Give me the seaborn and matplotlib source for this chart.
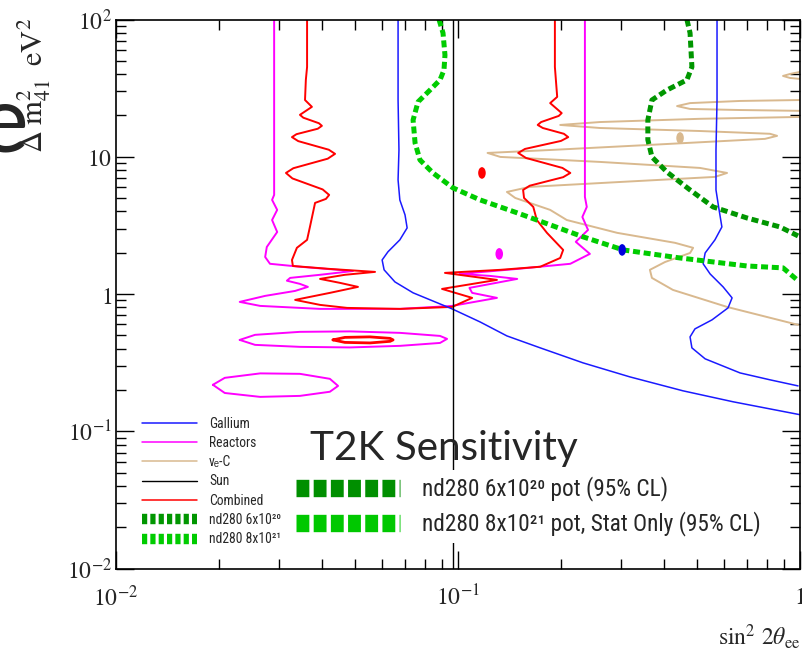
import matplotlib
matplotlib.use("Agg")
import matplotlib.pyplot as plt
from matplotlib import font_manager as fm
from matplotlib.font_manager import FontProperties
from matplotlib.lines import Line2D
from matplotlib.markers import MarkerStyle
from matplotlib.transforms import Affine2D
from matplotlib.ticker import LogLocator, NullFormatter
import seaborn as sns

# ---------------- contour data (sin^2 2theta_ee, Delta m^2_41 [eV^2]) ----------------
# Gallium: low-sin2 branch and high-sin2 branch
gallium_a_sin2 = [0.0668, 0.0668, 0.0672, 0.0668, 0.0676, 0.0700, 0.0710, 0.0676, 0.0624, 0.0600,
                  0.0608, 0.0654, 0.0739, 0.0857, 0.0961, 0.116, 0.139, 0.174, 0.232, 0.318,
                  0.455, 0.637, 1.0]
gallium_a_dm2 = [100, 25.9, 11.2, 6.78, 4.84, 3.77, 3.03, 2.48, 2.03, 1.77,
                 1.50, 1.225, 1.02, 0.876, 0.779, 0.626, 0.495, 0.405, 0.315, 0.249,
                 0.197, 0.164, 0.132]
gallium_b_sin2 = [0.572, 0.572, 0.568, 0.568, 0.580, 0.591, 0.564, 0.528, 0.521, 0.546,
                  0.596, 0.633, 0.616, 0.553, 0.493, 0.477, 0.483, 0.528, 0.668, 0.817, 0.987]
gallium_b_dm2 = [100, 25.9, 11.2, 5.73, 4.10, 3.08, 2.48, 1.99, 1.66, 1.40,
                 1.126, 0.937, 0.792, 0.648, 0.557, 0.487, 0.405, 0.337, 0.266, 0.237, 0.214]

# Reactors: main band and two closed islands
reactor_sin2 = [0.0290, 0.0290, 0.0286, 0.0296, 0.0286, 0.0296, 0.0276, 0.0273, 0.0282, 0.0345,
                0.0493, 0.0395, 0.0323, 0.0316, 0.0345, 0.0364, 0.0334, 0.0273, 0.0230, 0.0264,
                0.0395, 0.0677, 0.0961, 0.130, 0.110, 0.108, 0.149, 0.124, 0.101, 0.149,
                0.213, 0.243, 0.221, 0.240, 0.231, 0.238, 0.235, 0.235]
reactor_dm2 = [100, 5.27, 4.85, 4.10, 3.46, 2.83, 2.20, 1.86, 1.66, 1.58,
               1.47, 1.38, 1.31, 1.25, 1.185, 1.127, 1.053, 0.969, 0.876, 0.819,
               0.779, 0.779, 0.819, 0.937, 1.019, 1.108, 1.288, 1.355, 1.40, 1.523,
               1.66, 1.96, 2.40, 2.93, 3.64, 4.31, 5.10, 100]
reactor_isl1_sin2 = [0.0230, 0.0255, 0.0345, 0.0483, 0.0677, 0.0886, 0.0929, 0.0886, 0.0677, 0.0483,
                     0.0345, 0.0255, 0.0230]
reactor_isl1_dm2 = [0.463, 0.504, 0.530, 0.534, 0.521, 0.495, 0.471, 0.440, 0.419, 0.408,
                    0.412, 0.426, 0.463]
reactor_isl2_sin2 = [0.0192, 0.0208, 0.0264, 0.0345, 0.0422, 0.0446, 0.0422, 0.0345, 0.0264, 0.0208,
                     0.0192]
reactor_isl2_dm2 = [0.218, 0.245, 0.264, 0.262, 0.241, 0.214, 0.194, 0.181, 0.178, 0.190, 0.218]

# nu_e - Carbon: three pieces entering from the right edge
nuec_a_sin2 = [1.0, 0.935, 0.892, 0.935, 1.0]
nuec_a_dm2 = [41.5, 40.1, 38.8, 37.5, 36.9]
nuec_b_sin2 = [1.0, 0.668, 0.477, 0.437, 0.477, 0.668, 1.0]
nuec_b_dm2 = [25.9, 25.5, 24.6, 23.4, 22.3, 21.9, 21.6]
nuec_c_sin2 = [1.0, 0.510, 0.260, 0.199, 0.260, 0.510, 0.817, 0.857, 0.790, 0.364,
               0.186, 0.122, 0.133, 0.260, 0.510, 0.612, 0.564, 0.298, 0.162, 0.139,
               0.147, 0.186, 0.208, 0.292, 0.431, 0.487, 0.477, 0.403, 0.364, 0.369,
               0.425, 0.612, 0.987]
nuec_c_dm2 = [19.5, 18.9, 17.9, 17.05, 16.2, 15.4, 14.7, 14.2, 13.5, 12.2,
              11.2, 10.66, 9.97, 9.17, 8.29, 7.62, 7.13, 6.55, 6.03, 5.54,
              5.01, 4.10, 3.46, 2.79, 2.36, 2.17, 1.99, 1.71, 1.50, 1.31,
              1.071, 0.805, 0.596]

# Sun
sun_sin2 = [0.0967, 0.0967]
sun_dm2 = [0.01, 100]

# Combined fit: main band and small island
comb_sin2 = [0.0362, 0.0362, 0.0359, 0.0357, 0.0374, 0.0345, 0.0353, 0.0392, 0.0400, 0.0389,
             0.0337, 0.0327, 0.0341, 0.0419, 0.0437, 0.0416, 0.0330, 0.0314, 0.0328, 0.0402,
             0.0420, 0.0411, 0.0382, 0.0369, 0.0362, 0.0338, 0.0327, 0.0329, 0.0422, 0.0572,
             0.0467, 0.0395, 0.0452, 0.0510, 0.0422, 0.0334, 0.0395, 0.0474, 0.0677, 0.0961,
             0.110, 0.0898, 0.130, 0.0916, 0.133, 0.174, 0.199, 0.203, 0.182, 0.170,
             0.166, 0.156, 0.155, 0.162, 0.203, 0.213, 0.202, 0.158, 0.150, 0.157,
             0.200, 0.210, 0.204, 0.177, 0.171, 0.175, 0.197, 0.201, 0.186, 0.195,
             0.192, 0.192]
comb_dm2 = [100, 45.1, 36.3, 25.9, 23.1, 20.2, 19.25, 17.55, 16.8, 16.0,
            14.6, 13.9, 13.0, 11.25, 10.5, 9.68, 8.25, 7.62, 6.95, 5.78,
            5.27, 4.93, 4.61, 3.08, 2.48, 2.17, 1.77, 1.60, 1.523, 1.449,
            1.38, 1.288, 1.205, 1.127, 1.019, 0.906, 0.833, 0.792, 0.779, 0.805,
            0.937, 1.089, 1.267, 1.425, 1.50, 1.58, 1.83, 2.095, 2.79, 3.46,
            4.31, 5.01, 5.73, 6.15, 7.10, 7.62, 8.29, 9.80, 10.66, 11.4,
            13.04, 13.9, 14.7, 16.2, 17.05, 17.9, 19.83, 20.8, 24.6, 27.3,
            45.1, 100]
comb_isl_sin2 = [0.0431, 0.0467, 0.0553, 0.0633, 0.0646, 0.0633, 0.0553, 0.0467, 0.0431]
comb_isl_dm2 = [0.463, 0.483, 0.487, 0.475, 0.463, 0.452, 0.440, 0.444, 0.463]

# nd280 sensitivities (95% CL)
nd_6e20_sin2 = [0.467, 0.477, 0.483, 0.467, 0.408, 0.369, 0.359, 0.359, 0.369, 0.408,
                0.477, 0.557, 0.700, 0.874, 0.987]
nd_6e20_dm2 = [100, 79.7, 45.1, 36.3, 30.6, 25.9, 18.5, 13.3, 9.97, 7.75,
               5.73, 4.31, 3.58, 3.08, 2.65]
nd_8e21_sin2 = [0.0880, 0.0904, 0.0916, 0.0910, 0.0886, 0.0828, 0.0764, 0.0739, 0.0749, 0.0774,
                0.0845, 0.0967, 0.116, 0.149, 0.186, 0.232, 0.304, 0.446, 0.700, 0.892, 0.987]
nd_8e21_dm2 = [100, 79.7, 55.1, 42.9, 36.3, 30.6, 25.1, 18.5, 12.6, 9.48,
               7.62, 5.93, 4.85, 3.90, 3.19, 2.61, 2.095, 1.83, 1.60, 1.55, 1.25]

# Best-fit points: Combined, Reactors, Gallium, nu_e-C
best_sin2 = [0.1175, 0.132, 0.302, 0.446]
best_dm2 = [7.62, 1.96, 2.095, 13.7]

# ---------------- labels and colours ----------------
x_tick_vals = [0.01, 0.1, 1]
x_tick_labels = [r"$10^{-2}$", r"$10^{-1}$", r"$1$"]
y_tick_vals = [0.01, 0.1, 1, 10, 100]
y_tick_labels = [r"$10^{-2}$", r"$10^{-1}$", r"$1$", r"$10$", r"$10^{2}$"]

legend_names = ["Gallium", "Reactors", "\u03bd\u2091-C", "Sun", "Combined",
                "nd280 6x10\u00b2\u2070", "nd280 8x10\u00b2\u00b9"]
big_legend_names = ["nd280 6x10\u00b2\u2070 pot (95% CL)",
                    "nd280 8x10\u00b2\u00b9 pot, Stat Only (95% CL)"]

c_gal = "#1a1aff"
c_rea = "#ff00ff"
c_nuc = "#d9b98f"
c_sun = "#000000"
c_comb = "#ff0000"
c_nd20 = "#009600"
c_nd21 = "#00cc00"
best_colors = [c_comb, c_rea, "#0000dd", c_nuc]

# ---------------- figure ----------------
sns.set_style("ticks")
plt.rcParams["font.family"] = ["DejaVu Sans"]
plt.rcParams["mathtext.fontset"] = "stix"

W, H = 802, 655
fig = plt.figure(figsize=(W / 100, H / 100), dpi=100)
ax = fig.add_axes([116 / W, 1 - 568.5 / H, (800 - 116) / W, (568.5 - 19.5) / H])
ax.set_xscale("log")
ax.set_yscale("log")


def curve(x, y, color, lw, **kw):
    sns.lineplot(x=x, y=y, sort=False, estimator=None, color=color, linewidth=lw,
                 ax=ax, legend=False, **kw)


for xs, ys in [(nuec_a_sin2, nuec_a_dm2), (nuec_b_sin2, nuec_b_dm2), (nuec_c_sin2, nuec_c_dm2)]:
    curve(xs, ys, c_nuc, 1.4)
for xs, ys in [(reactor_sin2, reactor_dm2), (reactor_isl1_sin2, reactor_isl1_dm2),
               (reactor_isl2_sin2, reactor_isl2_dm2)]:
    curve(xs, ys, c_rea, 1.4)
curve(comb_sin2, comb_dm2, c_comb, 1.4)
curve(comb_isl_sin2, comb_isl_dm2, c_comb, 2.0)
curve(gallium_a_sin2, gallium_a_dm2, c_gal, 1.1)
curve(gallium_b_sin2, gallium_b_dm2, c_gal, 1.1)
curve(sun_sin2, sun_dm2, c_sun, 1.0)
curve(nd_8e21_sin2, nd_8e21_dm2, c_nd21, 3.6, linestyle=(0, (1.4, 0.75)), dash_capstyle="butt")
curve(nd_6e20_sin2, nd_6e20_dm2, c_nd20, 3.6, linestyle=(0, (1.4, 0.75)), dash_capstyle="butt")

dot = MarkerStyle("o", transform=Affine2D().scale(0.65, 1.0))
for bx, by, bc in zip(best_sin2, best_dm2, best_colors):
    sns.scatterplot(x=[bx], y=[by], color=bc, marker=dot, s=70, edgecolor="none",
                    ax=ax, legend=False, zorder=6)

ax.set_xlim(0.01, 1)
ax.set_ylim(0.01, 100)

# ROOT-like frame and ticks
for sp in ax.spines.values():
    sp.set_linewidth(1.2)
    sp.set_color("black")
ax.set_xticks(x_tick_vals)
ax.set_xticklabels(x_tick_labels)
ax.set_yticks(y_tick_vals)
ax.set_yticklabels(y_tick_labels)
ax.xaxis.set_minor_locator(LogLocator(base=10, subs=range(2, 10)))
ax.yaxis.set_minor_locator(LogLocator(base=10, subs=range(2, 10)))
ax.xaxis.set_minor_formatter(NullFormatter())
ax.yaxis.set_minor_formatter(NullFormatter())
ax.tick_params(which="major", direction="in", length=13, width=1.0, top=True, right=True,
               labelsize=17, color="black")
ax.tick_params(which="minor", direction="in", length=7, width=1.0, top=True, right=True,
               color="black")
ax.tick_params(axis="x", which="major", pad=12)
ax.tick_params(axis="y", which="major", pad=3)

ax.set_ylabel(r"$\Delta\;\mathrm{m}^{2}_{41}\;\;\mathrm{eV}^{2}$", fontsize=22, loc="top")
ax.yaxis.set_label_coords((53 - 116) / 684, 1.003)
ax.set_xlabel(r"$\sin^{2}\,2\theta_{\mathrm{ee}}$", fontsize=17, loc="right")
ax.xaxis.set_label_coords(1.0, -0.098)

# ---------------- text fonts ----------------
def pick_narrow():
    prefs = ["Liberation Sans Narrow", "Arial Narrow", "Roboto Condensed", "Open Sans Condensed",
             "Noto Sans Condensed", "DejaVu Sans Condensed"]
    entries = fm.fontManager.ttflist
    names = {f.name for f in entries}
    for p in prefs:
        if p in names:
            return p, "normal"
    for f in entries:
        if str(f.stretch) in ("condensed", "semi-condensed", "extra-condensed") and \
                f.style == "normal" and f.weight in (400, "normal", "regular") and "Mono" not in f.name:
            return f.name, f.stretch
    return "Liberation Sans", "normal"


narrow_name, narrow_stretch = pick_narrow()
narrow_family = [narrow_name, "Liberation Sans", "DejaVu Sans"]
renderer = fig.canvas.get_renderer()


def text_size(s, size, family, stretch="normal"):
    t = fig.text(0, 0, s, fontproperties=FontProperties(family=family, size=size, stretch=stretch))
    bb = t.get_window_extent(renderer)
    t.remove()
    return bb.width, bb.height


# In-plot legend (bottom left): size chosen so "Combined" spans about 54 px
w_c, _ = text_size("Combined", 10, narrow_family, narrow_stretch)
fs1 = max(8.0, min(11.5, 10 * 54 / w_c))
_, h1 = text_size(legend_names[5], fs1, narrow_family, narrow_stretch)
fs1_px = fs1 * 100 / 72
pitch1 = 19.3
handles = [
    Line2D([], [], color=c_gal, lw=1.1),
    Line2D([], [], color=c_rea, lw=1.1),
    Line2D([], [], color=c_nuc, lw=1.1),
    Line2D([], [], color=c_sun, lw=1.0),
    Line2D([], [], color=c_comb, lw=1.1),
    Line2D([], [], color=c_nd20, lw=7.5, linestyle=(0, (0.5, 0.3)), dash_capstyle="butt"),
    Line2D([], [], color=c_nd21, lw=7.5, linestyle=(0, (0.5, 0.3)), dash_capstyle="butt"),
]
leg1 = ax.legend(handles, legend_names, loc="upper left",
                 bbox_to_anchor=(142 / W, 1 - (423.5 - h1 / 2) / H), bbox_transform=fig.transFigure,
                 frameon=False, borderpad=0, borderaxespad=0,
                 prop=FontProperties(family=narrow_family, size=fs1, stretch=narrow_stretch),
                 handlelength=55 / fs1_px, handletextpad=12 / fs1_px,
                 labelspacing=max(0.0, (pitch1 - h1) / fs1_px))
ax.add_artist(leg1)

# Sensitivity legend with white box: second label spans about 338 px
w_b, _ = text_size(big_legend_names[1], 17, narrow_family, narrow_stretch)
fs2 = min(17.0, 17 * 338 / w_b)
_, h2 = text_size(big_legend_names[1], fs2, narrow_family, narrow_stretch)
fs2_px = fs2 * 100 / 72
pitch2 = 35
bpad = 0.3
big_handles = [
    Line2D([], [], color="#008f00", lw=12.5, linestyle=(0, (0.74, 0.25)), dash_capstyle="butt"),
    Line2D([], [], color="#00c800", lw=12.5, linestyle=(0, (0.74, 0.25)), dash_capstyle="butt"),
]
leg2 = ax.legend(big_handles, big_legend_names, loc="upper left",
                 bbox_to_anchor=((296 - bpad * fs2_px) / W, 1 - (489 - h2 / 2 - bpad * fs2_px) / H),
                 bbox_transform=fig.transFigure,
                 frameon=True, facecolor="white", edgecolor="none", framealpha=1.0,
                 fancybox=False, borderpad=bpad, borderaxespad=0,
                 prop=FontProperties(family=narrow_family, size=fs2, stretch=narrow_stretch),
                 handlelength=104 / fs2_px, handletextpad=22 / fs2_px,
                 labelspacing=max(0.0, (pitch2 - h2) / fs2_px))
leg2.set_zorder(7)

# Slide captions
w_t, _ = text_size("T2K Sensitivity", 30, ["Lato", "DejaVu Sans"])
fig.text(310 / W, 1 - 460 / H, "T2K Sensitivity", fontsize=30 * 268 / w_t,
         family=["Lato", "DejaVu Sans"], ha="left", va="baseline")
fig.text(28 / W, 1 - 152 / H, "e", fontsize=68,
         family=["Lato", "DejaVu Sans"], ha="right", va="baseline")

fig.savefig("out.png", dpi=100)
